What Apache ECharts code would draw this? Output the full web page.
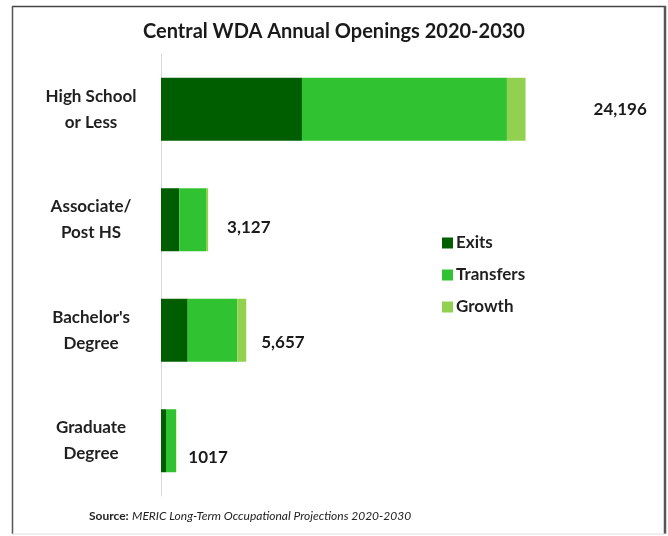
<!DOCTYPE html>
<html>
<head>
<meta charset="utf-8">
<script src="https://cdn.jsdelivr.net/npm/echarts@6/dist/echarts.min.js"></script>
<style>html,body{margin:0;padding:0;background:#fff}#c{width:668px;height:536px}</style>
</head>
<body>
<div id="c"></div>
<script>
const categories = ["High School\nor Less", "Associate/\nPost HS", "Bachelor's\nDegree", "Graduate\nDegree"];
const exits = [9356, 1214, 1772, 332];
const transfers = [13603, 1772, 3291, 664];
const growth = [1237, 141, 594, 21];
const totals = [24196, 3127, 5657, 1017];
const totalLabels = ["24,196", "3,127", "5,657", "1017"];

const FONT = 'Lato, "Open Sans", sans-serif';
const labelOffsets = [[68, 0], [19, 8], [15, 12], [12, 17]];

const chart = echarts.init(document.getElementById('c'));
chart.setOption({
  animation: false,
  backgroundColor: '#fff',
  title: {
    text: 'Central WDA Annual Openings 2020-2030',
    left: 'center',
    top: 17,
    textStyle: { fontFamily: FONT, fontSize: 20, fontWeight: 'bold', color: '#1a1a1a' }
  },
  legend: {
    orient: 'vertical',
    left: 437,
    top: 228,
    itemWidth: 11,
    itemHeight: 11,
    itemGap: 12,
    icon: 'rect',
    data: ['Exits', 'Transfers', 'Growth'],
    textStyle: { fontFamily: FONT, fontSize: 17, fontWeight: 'bold', color: '#1f1f1f', lineHeight: 20, padding: [0, 0, 0, -2] }
  },
  grid: { left: 161, right: 55, top: 54, bottom: 40 },
  xAxis: { type: 'value', min: 0, max: 30000, show: false },
  yAxis: {
    type: 'category',
    inverse: true,
    data: categories,
    axisLine: { show: true, lineStyle: { color: '#d9d9d9', width: 1 } },
    axisTick: { show: false },
    axisLabel: {
      fontFamily: FONT, fontSize: 17, fontWeight: 'bold', color: '#1f1f1f',
      align: 'center', margin: 70, lineHeight: 26
    }
  },
  series: [
    { name: 'Exits', type: 'bar', stack: 't', data: exits, barCategoryGap: '43%', itemStyle: { color: '#005E00' } },
    { name: 'Transfers', type: 'bar', stack: 't', data: transfers, itemStyle: { color: '#30C230' } },
    { name: 'Growth', type: 'bar', stack: 't', data: growth, itemStyle: { color: '#92D050' } },
    {
      name: 'Total', type: 'scatter', symbolSize: 0, silent: true,
      itemStyle: { opacity: 1 },
      data: totals.map((v, i) => ({
        value: [v, i],
        label: { offset: labelOffsets[i] }
      })),
      label: {
        show: true, position: 'right', distance: 0,
        formatter: p => totalLabels[p.dataIndex],
        fontFamily: FONT, fontSize: 17, fontWeight: 'bold', color: '#1a1a1a', opacity: 1
      }
    }
  ],
  graphic: [
    { type: 'line', shape: { x1: 12, y1: 6.5, x2: 666, y2: 6.5 }, style: { stroke: '#444', lineWidth: 1.5 }, silent: true },
    { type: 'line', shape: { x1: 12.5, y1: 6, x2: 12.5, y2: 534 }, style: { stroke: '#555', lineWidth: 1.5 }, silent: true },
    { type: 'line', shape: { x1: 665, y1: 6, x2: 665, y2: 534 }, style: { stroke: '#555', lineWidth: 2.5 }, silent: true },
    { type: 'line', shape: { x1: 12, y1: 534, x2: 666, y2: 534 }, style: { stroke: '#ddd', lineWidth: 1 }, silent: true },
    {
      type: 'text', left: 89, top: 510,
      style: {
        text: '{b|Source:} {i|MERIC Long-Term Occupational Projections 2020-2030}',
        rich: {
          b: { fontFamily: FONT, fontSize: 12, fontWeight: 'bold', fill: '#222' },
          i: { fontFamily: FONT, fontSize: 12, fontStyle: 'italic', fill: '#222' }
        }
      }
    }
  ]
});
</script>
</body>
</html>
